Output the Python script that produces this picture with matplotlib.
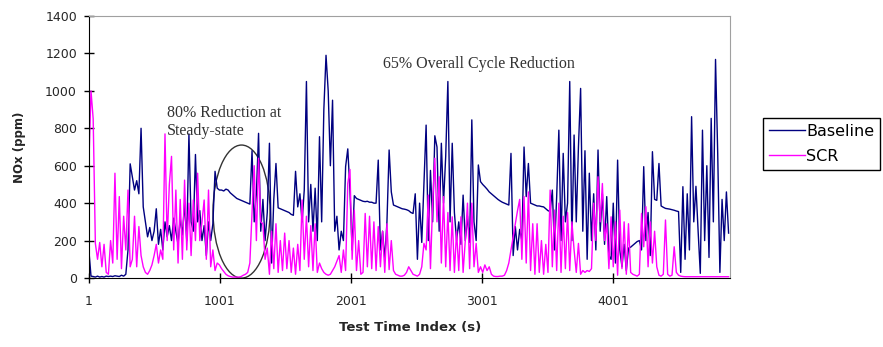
import numpy as np
import matplotlib
matplotlib.use('Agg')
import matplotlib.pyplot as plt
from matplotlib.patches import Ellipse

# NOx traces, one sample every ~16.6 s
time_step = 16.6

baseline = [
    150, 10, 8, 5, 10, 5, 8, 5, 10, 8,
    10, 8, 12, 10, 8, 15, 10, 20, 150, 610,
    540, 470, 520, 450, 800, 380, 300, 220, 270, 200,
    250, 370, 180, 260, 150, 300, 220, 280, 200, 320,
    250, 180, 320, 230, 400, 200, 770, 300, 250, 660,
    300, 360, 200, 280, 120, 300, 200, 290, 570, 480,
    470, 470, 465, 475, 470, 455, 445, 435, 425, 420,
    415, 410, 405, 400, 395, 680, 300, 450, 773, 250,
    420, 200, 350, 720, 80, 420, 612, 375, 370, 365,
    360, 355, 350, 340, 335, 570, 380, 450, 300, 470,
    1050, 300, 500, 250, 480, 200, 755, 300, 900, 1190,
    1000, 600, 950, 250, 330, 150, 250, 200, 595, 690,
    470, 150, 440, 425, 420, 415, 410, 408, 410, 405,
    405, 400, 400, 630, 150, 250, 100, 300, 684, 460,
    390, 385, 380, 375, 370, 368, 365, 360, 350, 345,
    450, 100, 400, 190, 505, 817, 200, 575, 300, 760,
    700, 250, 720, 400, 650, 1050, 300, 720, 350, 200,
    300, 180, 443, 200, 330, 190, 845, 300, 200, 604,
    515, 500, 488, 475, 460, 450, 440, 430, 420, 412,
    405, 400, 395, 390, 666, 120, 275, 150, 260, 200,
    700, 435, 612, 400, 395, 390, 385, 385, 382, 380,
    370, 360, 355, 470, 150, 435, 790, 200, 666, 300,
    400, 1050, 200, 764, 300, 700, 1013, 250, 680, 100,
    560, 200, 450, 150, 684, 250, 450, 180, 435, 120,
    100, 400, 80, 630, 150, 60, 180, 40, 160, 165,
    175, 185, 195, 200, 150, 595, 200, 350, 120, 675,
    420, 415, 612, 385, 378, 372, 370, 368, 365, 362,
    358, 355, 30, 488, 100, 450, 150, 862, 300, 490,
    250, 25, 790, 200, 600, 110, 853, 300, 1168, 666,
    30, 420, 200, 460, 240,
]

scr = [
    600, 1000, 850, 185, 100, 190, 60, 180, 30, 20,
    200, 80, 560, 100, 435, 50, 330, 150, 470, 60,
    100, 330, 60, 275, 120, 60, 30, 20, 40, 70,
    120, 180, 80, 150, 100, 770, 200, 500, 650, 150,
    470, 80, 420, 100, 523, 150, 400, 120, 417, 200,
    560, 200, 300, 417, 100, 470, 60, 150, 40, 80,
    70, 50, 35, 20, 12, 8, 5, 5, 5, 5,
    8, 15, 20, 30, 80, 350, 600, 200, 640, 300,
    290, 100, 160, 20, 250, 50, 290, 30, 200, 40,
    240, 50, 200, 30, 160, 20, 180, 40, 417, 100,
    330, 60, 280, 40, 290, 30, 80, 50, 30, 20,
    15, 20, 40, 60, 90, 120, 30, 150, 40, 505,
    580, 100, 363, 40, 200, 20, 30, 345, 60, 330,
    50, 300, 40, 275, 60, 250, 30, 290, 45, 200,
    40, 20, 15, 10, 10, 15, 30, 60, 40, 20,
    15, 10, 20, 60, 185, 150, 443, 50, 400, 640,
    300, 541, 80, 435, 60, 350, 40, 327, 30, 250,
    40, 327, 30, 200, 400, 50, 400, 60, 185, 30,
    60, 30, 70, 40, 60, 20, 10, 8, 8, 10,
    10, 15, 40, 80, 150, 220, 290, 360, 420, 100,
    435, 80, 460, 40, 290, 20, 290, 30, 200, 20,
    180, 30, 470, 60, 363, 40, 400, 30, 330, 50,
    350, 40, 300, 150, 30, 185, 20, 40, 30, 40,
    35, 50, 400, 200, 541, 300, 505, 200, 290, 50,
    327, 60, 300, 15, 363, 50, 300, 20, 290, 30,
    20, 15, 10, 20, 345, 167, 381, 60, 300, 80,
    250, 60, 15, 10, 20, 310, 20, 10, 15, 167,
    30, 15, 10, 8, 7, 7, 7, 7, 7, 7,
    7, 7, 7, 7, 7, 7, 7, 7, 7, 7,
    7, 7, 7, 7, 7,
]

time_index = 1 + time_step * np.arange(len(baseline))

x_ticks = [1, 1001, 2001, 3001, 4001]
y_ticks = [0, 200, 400, 600, 800, 1000, 1200, 1400]

fig = plt.figure(figsize=(8.83, 3.47), dpi=100)
ax = fig.add_axes([0.1006, 0.1988, 0.7261, 0.7551])

ax.plot(time_index, baseline, color='#000080', lw=1.0, label='Baseline')
ax.plot(time_index, scr, color='#ff00ff', lw=1.0, label='SCR')

ax.set_xlim(1, 4892)
ax.set_ylim(0, 1400)
ax.set_xticks(x_ticks)
ax.set_yticks(y_ticks)
ax.tick_params(direction='inout', length=7, width=1, labelsize=9,
               labelcolor='#262626', colors='black')
ax.tick_params(axis='x', pad=9)
ax.tick_params(axis='y', pad=5)

for side in ['top', 'right']:
    ax.spines[side].set_color('#a0a0a0')
for side in ['left', 'bottom']:
    ax.spines[side].set_color('black')

ax.set_xlabel('Test Time Index (s)', fontsize=9.5, fontweight='bold', color='#262626')
ax.set_ylabel('NOx (ppm)', fontsize=8.5, fontweight='bold', color='#262626')
ax.xaxis.set_label_coords(0.501, -0.165)
ax.yaxis.set_label_coords(-0.098, 0.5)

# steady-state circle and notes
ax.add_patch(Ellipse((1166, 355), 435, 711, fill=False, edgecolor='#333333',
                     lw=1.0, clip_on=False))
ax.text(598, 925, '80% Reduction at\nSteady-state', family='Liberation Serif',
        fontsize=11.5, color='#333333', va='top', ha='left', linespacing=1.2)
ax.text(2245, 1186, '65% Overall Cycle Reduction', family='Liberation Serif',
        fontsize=11.5, color='#333333', va='top', ha='left')

leg = ax.legend(loc='upper left', bbox_to_anchor=(763 / 883, 1 - 118 / 347),
                bbox_transform=fig.transFigure, fontsize=11.5, frameon=True,
                fancybox=False, framealpha=1, edgecolor='black',
                borderpad=0.35, labelspacing=0.65, handlelength=2.3,
                handletextpad=0.05, borderaxespad=0)
leg.get_frame().set_linewidth(1.0)

fig.savefig('out.png', dpi=100)
